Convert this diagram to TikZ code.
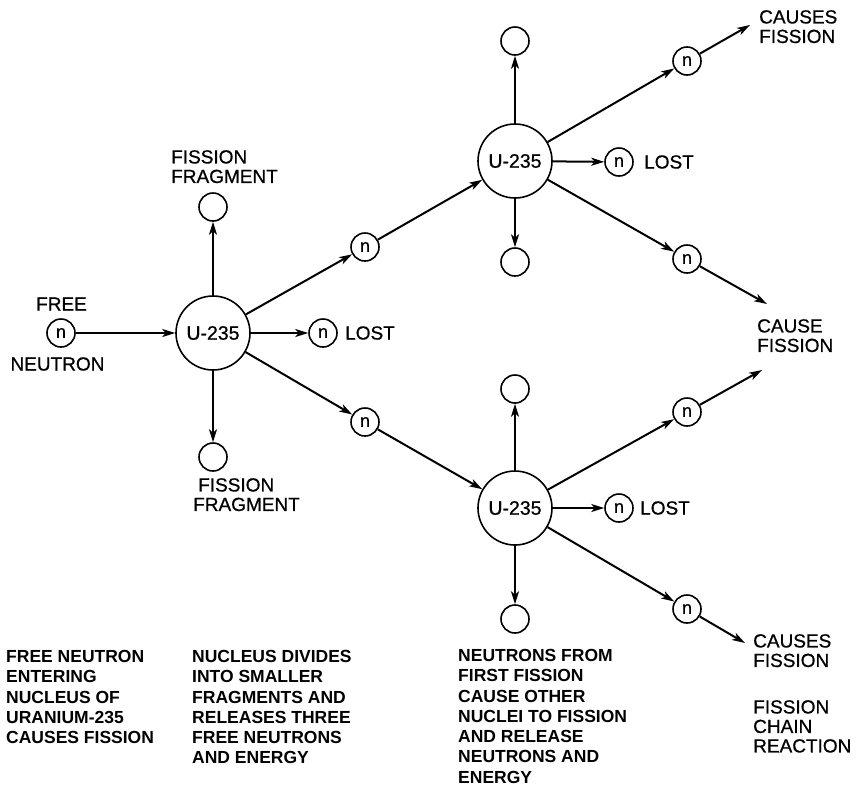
\documentclass[tikz,border=0pt]{standalone}
\usepackage{fontspec}
\setmainfont{Liberation Sans}
\newfontfamily\lblfont{Liberation Sans}[FakeBold=0.7]
\usetikzlibrary{arrows.meta}
\begin{document}
\begin{tikzpicture}[x=1pt,y=-1pt,
  big/.style={circle,draw,line width=1.6pt,minimum size=74pt,inner sep=0pt,font=\lblfont\fontsize{19.5}{20}\selectfont},
  neu/.style={circle,draw,line width=1.6pt,minimum size=28pt,inner sep=0pt,font=\lblfont\fontsize{18}{18}\selectfont},
  frag/.style={circle,draw,line width=1.6pt,minimum size=28pt,inner sep=0pt},
  arr/.style={line width=2pt,-{Stealth[length=13pt,width=8pt,inset=3.5pt]}},
  lbl/.style={inner sep=0pt,font=\lblfont\fontsize{19}{19.5}\selectfont,align=left},
  capt/.style={inner sep=0pt,font=\bfseries\fontsize{17.5}{20.3}\selectfont,align=left,anchor=north west},
]
\useasboundingbox (0,0) rectangle (866,788);

% nodes
\node[neu] (n0) at (61,333) {n};
\node[big] (u0) at (213,333) {U-235};
\node[frag] (f0t) at (213,207) {};
\node[frag] (f0b) at (213,457) {};
\node[neu] (l0) at (323,333) {n};
\node[neu] (na) at (365,247) {n};
\node[neu] (nb) at (365,422) {n};

\node[big] (ua) at (515,161) {U-235};
\node[frag] (fat) at (515,41) {};
\node[frag] (fab) at (515,262) {};
\node[neu] (la) at (619,162) {n};
\node[neu] (na1) at (687,61) {n};
\node[neu] (na2) at (687,259) {n};

\node[big] (ub) at (515,508) {U-235};
\node[frag] (fbt) at (515,389) {};
\node[frag] (fbb) at (515,619) {};
\node[neu] (lb) at (619,508) {n};
\node[neu] (nb1) at (687,412) {n};
\node[neu] (nb2) at (687,609) {n};

\coordinate (ea1) at (750,25);
\coordinate (ea2) at (767,304);
\coordinate (eb1) at (762,370);
\coordinate (eb2) at (745,643);

% connectors
\draw[arr] (n0) -- (u0);
\draw[arr] (u0) -- (f0t);
\draw[arr] (u0) -- (f0b);
\draw[arr] (u0) -- (l0);
\draw[arr] (u0) -- (na);
\draw[arr] (u0) -- (nb);
\draw[arr] (na) -- (ua);
\draw[arr] (nb) -- (ub);

\draw[arr] (ua) -- (fat);
\draw[arr] (ua) -- (fab);
\draw[arr] (ua) -- (la);
\draw[arr] (ua) -- (na1);
\draw[arr] (ua) -- (na2);
\draw[arr] (na1) -- (ea1);
\draw[arr] (na2) -- (ea2);

\draw[arr] (ub) -- (fbt);
\draw[arr] (ub) -- (fbb);
\draw[arr] (ub) -- (lb);
\draw[arr] (ub) -- (nb1);
\draw[arr] (ub) -- (nb2);
\draw[arr] (nb1) -- (eb1);
\draw[arr] (nb2) -- (eb2);

% labels
\node[lbl] (tfree) at (61.5,304) {FREE};
\node[lbl] (tneutron) at (57.5,364) {NEUTRON};
\node[lbl,anchor=west] (tl0) at (345,333) {LOST};
\node[lbl,anchor=west] (tla) at (644,162) {LOST};
\node[lbl,anchor=west] (tlb) at (640,508) {LOST};
\node[lbl,anchor=north west] (tft) at (171,150) {FISSION\\FRAGMENT};
\node[lbl,anchor=north west] (tfb) at (193,478) {\hspace*{5pt}FISSION\\FRAGMENT};
\node[lbl,anchor=north west] (tca) at (759,10) {CAUSES\\FISSION};
\node[lbl,anchor=north west] (tcm) at (757,319) {CAUSE\\FISSION};
\node[lbl,anchor=north west] (tcb) at (753,634) {CAUSES\\FISSION};
\node[lbl,anchor=north west] (tchain) at (753,700) {FISSION\\CHAIN\\REACTION};

% captions
\node[capt] (c1) at (6,650) {FREE NEUTRON\\ENTERING\\NUCLEUS OF\\URANIUM-235\\CAUSES FISSION};
\node[capt] (c2) at (192,650) {NUCLEUS DIVIDES\\INTO SMALLER\\FRAGMENTS AND\\RELEASES THREE\\FREE NEUTRONS\\AND ENERGY};
\node[capt] (c3) at (458,649) {NEUTRONS FROM\\FIRST FISSION\\CAUSE OTHER\\NUCLEI TO FISSION\\AND RELEASE\\NEUTRONS AND\\ENERGY};
\end{tikzpicture}
\end{document}
